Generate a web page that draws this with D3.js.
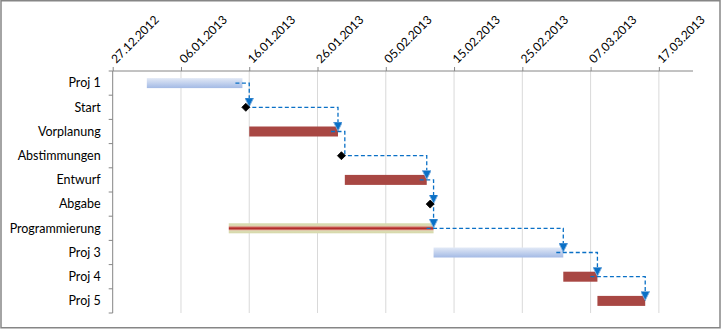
<!DOCTYPE html>
<html><head><meta charset="utf-8">
<script src="https://cdn.jsdelivr.net/npm/d3@7"></script>
<style>body{margin:0;background:#fff}svg{display:block}</style>
</head><body><svg id="c" width="721" height="329"></svg>
<script>
const tasks = ["Proj 1","Start","Vorplanung","Abstimmungen","Entwurf","Abgabe","Programmierung","Proj 3","Proj 4","Proj 5"];
const starts = ["2013-01-01","2013-01-15","2013-01-16","2013-01-29","2013-01-30","2013-02-11","2013-01-13","2013-02-12","2013-03-03","2013-03-08"];
const ends   = ["2013-01-15","2013-01-16","2013-01-29","2013-01-30","2013-02-11","2013-02-12","2013-02-12","2013-03-03","2013-03-08","2013-03-15"];
const kinds  = ["summary","milestone","task","milestone","task","milestone","critical","summary","task","task"];
// links: [from task index, to task index, arrowhead?]
const linkFrom = [0,1,2,3,4,5,6,7,8];
const linkTo   = [1,2,3,4,5,6,7,8,9];
const linkHead = [true,true,false,true,true,true,true,true,true];
const tickDates = ["2012-12-27","2013-01-06","2013-01-16","2013-01-26","2013-02-05","2013-02-15","2013-02-25","2013-03-07","2013-03-17"];
const domainDates = ["2012-12-27","2013-03-22"];

const P = d3.utcParse("%Y-%m-%d");
const fmt = d3.utcFormat("%d.%m.%Y");
const svg = d3.select("#c");
const L = 112.7, R = 693, T = 71, B = 313;
const x = d3.scaleUtc().domain(domainDates.map(P)).range([L, R]);
const y = d3.scaleBand().domain(tasks).range([T, B]);
const yc = t => y(t) + y.bandwidth()/2;

const defs = svg.append("defs");
const g1 = defs.append("linearGradient").attr("id","sum").attr("x1",0).attr("y1",0).attr("x2",0).attr("y2",1);
g1.append("stop").attr("offset","0%").attr("stop-color","#e2e9f6");
g1.append("stop").attr("offset","100%").attr("stop-color","#a3bae5");
const g2 = defs.append("linearGradient").attr("id","crit").attr("x1",0).attr("y1",0).attr("x2",0).attr("y2",1);
[["0%","#d5d9aa"],["18%","#dadbb2"],["28%","#e0c9ab"],["36%","#d27a70"],["44%","#c0403c"],["50%","#a82622"],["56%","#c0403c"],["64%","#d27a70"],["72%","#e0c9ab"],["82%","#dadbb2"],["100%","#d5d9aa"]]
  .forEach(s => g2.append("stop").attr("offset",s[0]).attr("stop-color",s[1]));
const mk = defs.append("marker").attr("id","arr").attr("viewBox","0 0 10 10").attr("refX",10).attr("refY",5)
  .attr("markerWidth",9).attr("markerHeight",9).attr("markerUnits","userSpaceOnUse").attr("orient","auto");
mk.append("path").attr("d","M0,0L10,5L0,10Z").attr("fill","#0a70c6").attr("stroke","#7fb0e0").attr("stroke-width",1);

// border
svg.append("rect").attr("x",1).attr("y",0.75).attr("width",719).attr("height",327).attr("fill","#fff")
  .attr("stroke","#868686").attr("stroke-width",1.5);

// gridlines
svg.append("g").selectAll("line").data(tickDates.slice(1)).join("line")
  .attr("x1",d=>x(P(d))).attr("x2",d=>x(P(d))).attr("y1",T).attr("y2",B)
  .attr("stroke","#d9d9d9").attr("stroke-width",1);

// top axis
const ax = svg.append("g").attr("transform",`translate(0,${T})`)
  .call(d3.axisTop(x).tickValues(tickDates.map(P)).tickFormat(fmt).tickSize(4).tickSizeOuter(0));
ax.select(".domain").attr("stroke","#868686").attr("d",`M${L},0H${R}`);
ax.selectAll(".tick line").attr("stroke","#868686");
ax.selectAll(".tick text").attr("font-family","Lato, 'Open Sans', sans-serif").attr("font-size","12px")
  .attr("fill","#000").attr("text-anchor","start").attr("dy",0).attr("y",0)
  .attr("transform","translate(3,-7) rotate(-45)");

// left axis
svg.append("line").attr("x1",L).attr("x2",L).attr("y1",T).attr("y2",B).attr("stroke","#868686");
svg.append("g").selectAll("line").data(d3.range(tasks.length+1)).join("line")
  .attr("x1",L-4).attr("x2",L).attr("y1",i=>T+i*y.step()).attr("y2",i=>T+i*y.step()).attr("stroke","#868686");
svg.append("g").selectAll("text").data(tasks).join("text")
  .attr("x",L-12).attr("y",d=>yc(d)).attr("dy","0.35em").attr("text-anchor","end")
  .attr("font-family","Lato, 'Open Sans', sans-serif").attr("font-size","12.5px").attr("fill","#000").text(d=>d);

// bars
const idx = d3.range(tasks.length);
const bh = 10;
svg.append("g").selectAll("rect").data(idx.filter(i=>kinds[i]!=="milestone")).join("rect")
  .attr("x",i=>x(P(starts[i]))).attr("width",i=>x(P(ends[i]))-x(P(starts[i])))
  .attr("y",i=>yc(tasks[i])-bh/2).attr("height",bh)
  .attr("fill",i=>kinds[i]==="summary"?"url(#sum)":kinds[i]==="critical"?"url(#crit)":"#a84743");

// links
const endX = i => x(P(ends[i]));
const lg = svg.append("g").attr("fill","none").attr("stroke","#0a70c6").attr("stroke-width",1.3).attr("stroke-dasharray","4,2.5");
linkFrom.forEach((f,k) => {
  const t = linkTo[k];
  const x0 = kinds[f]==="milestone" ? (x(P(starts[f]))+endX(f))/2 : endX(f)-7;
  const x1 = endX(t);
  const y0 = yc(tasks[f]), y1 = yc(tasks[t]) - 0.5;
  lg.append("path").attr("d",`M${x0},${y0}H${x1}V${y1}`)
    .attr("marker-end", linkHead[k] ? "url(#arr)" : null);
});

// milestones
svg.append("g").selectAll("path").data(idx.filter(i=>kinds[i]==="milestone")).join("path")
  .attr("transform",i=>`translate(${(x(P(starts[i]))+endX(i))/2},${yc(tasks[i])})`)
  .attr("d","M0,-4L4,0L0,4L-4,0Z").attr("fill","#000").attr("stroke","#000").attr("stroke-width",0.8);
</script></body></html>
